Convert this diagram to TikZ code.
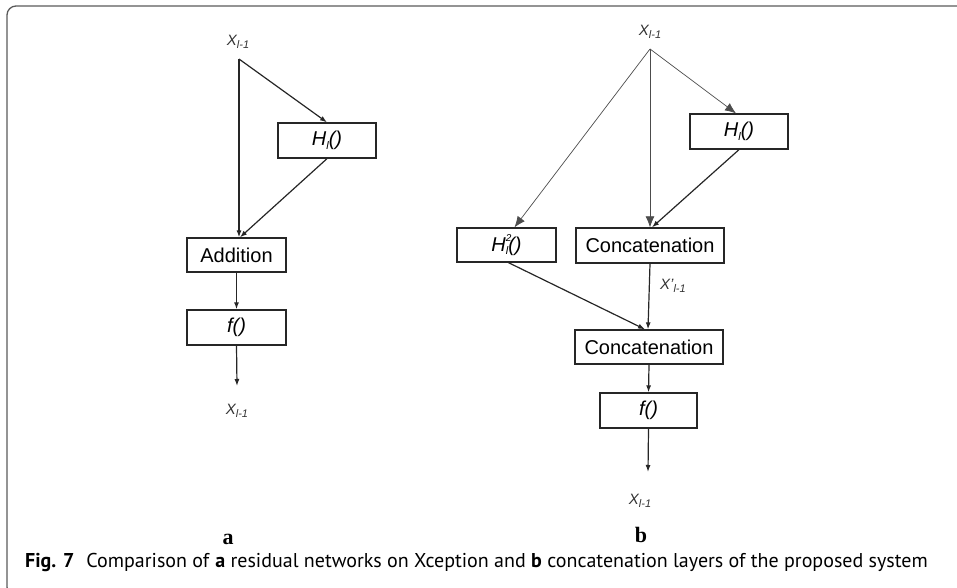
\documentclass[tikz,border=0pt]{standalone}
\usepackage{fontspec}
\setmainfont{Liberation Sans}
\newfontfamily\capfont{PT Sans}
\newfontfamily\serifb{Liberation Serif}
\usetikzlibrary{arrows.meta}
\definecolor{framegray}{RGB}{90,90,90}
\newcommand{\sbs}[1]{\raisebox{-0.32ex}{\fontsize{11}{11}\selectfont\itshape #1}}
\tikzset{
  blk/.style={draw=black!85,line width=1.3pt,inner sep=0pt,font=\fontsize{20}{22}\selectfont},
  conn/.style={line width=1.2pt,draw=black!85,-{Latex[length=7pt,width=5pt]}},
  thin/.style={line width=0.7pt,draw=black!70,-{Latex[length=11pt,width=9pt]}},
  var/.style={inner sep=0pt,font=\fontsize{15}{17}\selectfont\itshape,text=black!80},
}
\begin{document}
\begin{tikzpicture}[x=1pt,y=-1pt]
\useasboundingbox (0,0) rectangle (957,587);
% frame
\draw[framegray,line width=1.3pt,rounded corners=9pt] (20,596) -- (7,596) -- (7,6) -- (980,6);
% ---------- (a) ----------
\node[var] (xal) at (238,42) {X\sbs{l-1}};
\coordinate (xa) at (239,59);
\node[blk,minimum width=98pt,minimum height=35pt] (Hla) at (327,140.5) {\itshape H\sbs{l}()};
\node[blk,minimum width=99pt,minimum height=34pt] (add) at (236.5,255) {Addition};
\node[blk,minimum width=99pt,minimum height=35pt] (fa) at (236.5,327.5) {\itshape f()};
\coordinate (outa) at (237,386);
\node[var] (xao) at (237,411) {X\sbs{l-1}};
\draw[conn] (xa) -- (Hla.north);
\draw[conn] (xa) -- ([xshift=2.5pt]add.north);
\draw[conn] (Hla.south) -- ([xshift=3.5pt]add.north);
\draw[conn] (add.south) -- (fa.north);
\draw[conn] (fa.south) -- (outa);
% ---------- (b) ----------
\node[var] (xbl) at (650,32) {X\sbs{l-1}};
\coordinate (xb) at (650,49);
\node[blk,minimum width=99pt,minimum height=34pt] (H2) at (506.5,245) {\itshape H\rlap{\raisebox{0.9ex}{\fontsize{10}{10}\selectfont 2}}\sbs{l}()};
\node[blk,minimum width=148pt,minimum height=35pt] (cat1) at (650,245.5) {Concatenation};
\node[blk,minimum width=98pt,minimum height=35pt] (Hlb) at (739,131.5) {\itshape H\sbs{l}()};
\node[blk,minimum width=148pt,minimum height=34pt] (cat2) at (649,347) {Concatenation};
\node[blk,minimum width=97pt,minimum height=35pt] (fb) at (648.5,410.5) {\itshape f()};
\coordinate (outb) at (648,472);
\node[var] (xbo) at (640,501) {X\sbs{l-1}};
\draw[thin] (xb) -- ([xshift=8pt]H2.north);
\draw[thin] (xb) -- (cat1.north);
\draw[thin] (xb) -- ([xshift=-3pt]Hlb.north);
\draw[conn] (Hlb.south) -- ([xshift=2pt]cat1.north);
\draw[conn] (cat1.south) -- ([xshift=-1pt]cat2.north);
\node[var,anchor=west] (xp) at (660,286) {X'\sbs{l-1}};
\draw[conn] ([xshift=2pt]H2.south) -- ([xshift=-4pt]cat2.north);
\draw[conn] (cat2.south) -- (fb.north);
\draw[conn] (fb.south) -- (outb);
% labels
\node[font=\serifb\bfseries\fontsize{22}{24}\selectfont] (la) at (228,539) {a};
\node[font=\serifb\bfseries\fontsize{22}{24}\selectfont] (lb) at (641,535) {b};
\node[anchor=base west,inner sep=0pt,font=\capfont\fontsize{20}{22}\selectfont] (cap) at (25,567) {\textbf{Fig. 7}\hspace{0.6em}Comparison of \textbf{a} residual networks on Xception and \textbf{b} concatenation layers of the proposed system};
\end{tikzpicture}
\end{document}
